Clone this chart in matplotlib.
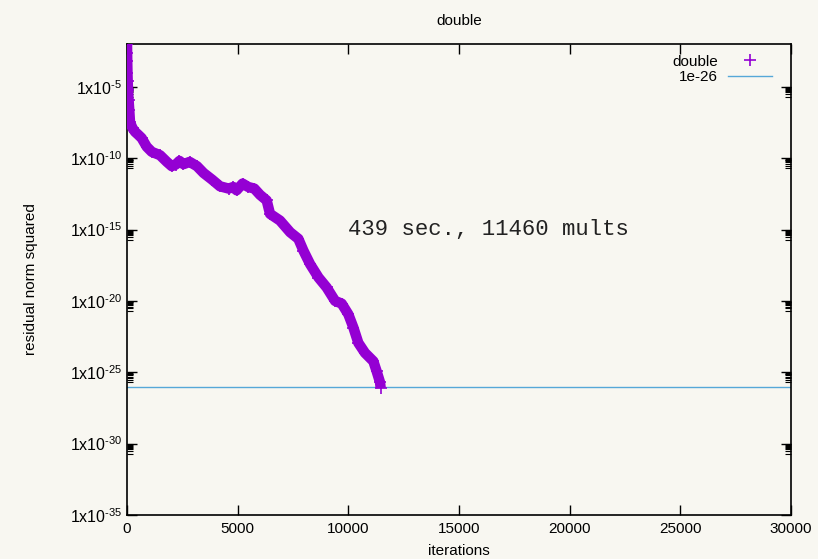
import matplotlib
matplotlib.use("Agg")
import matplotlib.pyplot as plt
from matplotlib.ticker import FixedLocator, NullFormatter

# values (iteration, log10 residual)
iters = [0, 5, 10, 20, 30, 45, 70, 100, 136, 250, 360, 500, 660, 890, 1120, 1490,
         1800, 2020, 2200, 2370, 2550, 2830, 3160, 3460, 3840, 4200, 4590, 4800,
         4950, 5220, 5480, 5750, 6010, 6310, 6460, 6910, 7370, 7740, 7970, 8270,
         8650, 9020, 9400, 9700, 10000, 10230, 10450, 10750, 11130, 11280, 11430, 11460]
log_resid = [-2.0, -2.6, -3.2, -4.0, -4.6, -5.2, -5.9, -6.6, -7.5, -7.9, -8.15, -8.35,
             -8.59, -9.2, -9.56, -9.79, -10.26, -10.56, -10.45, -10.19, -10.42, -10.26,
             -10.56, -11.04, -11.5, -11.97, -12.13, -12.02, -12.25, -11.78, -12.02,
             -12.13, -12.57, -12.96, -13.9, -14.37, -15.19, -15.65, -16.48, -17.42,
             -18.36, -19.06, -20.0, -20.19, -20.94, -21.88, -22.94, -23.64, -24.23,
             -24.94, -25.7, -26.1]
resid = [10 ** v for v in log_resid]
target = 1e-26
ytick_exps = [-5, -10, -15, -20, -25, -30, -35]
xticks = [0, 5000, 10000, 15000, 20000, 25000, 30000]

bg = "#f8f7f1"
plt.rcParams["font.family"] = ["Liberation Sans", "DejaVu Sans"]
plt.rcParams["mathtext.fontset"] = "custom"
plt.rcParams["mathtext.rm"] = "Liberation Sans"

fig = plt.figure(figsize=(8.18, 5.59), dpi=100, facecolor=bg)
ax = fig.add_axes([0.1553, 0.0787, 0.9670 - 0.1553, 0.9213 - 0.0787])
ax.set_facecolor(bg)

ax.plot(iters, resid, color="#9400d3", lw=7.5, solid_capstyle="butt", zorder=3)
ax.plot(iters, resid, "+", color="#9400d3", ms=8, mew=1.2, label="double", zorder=3)
ax.axhline(target, color="#56a8d8", lw=1, label="1e-26", zorder=2)

ax.set_yscale("log")
ax.set_xlim(0, 30000)
ax.set_ylim(1e-35, 1e-2)
ax.set_xticks(xticks)
ax.set_xticklabels([str(t) for t in xticks], fontsize=11)
ax.yaxis.set_major_locator(FixedLocator([10.0 ** e for e in ytick_exps]))
ax.set_yticklabels([r"1x10$^{\text{%d}}$" % e for e in ytick_exps], fontsize=11.5)
minors = [k * 10.0 ** (e - 1) for e in ytick_exps for k in range(2, 10)]
ax.yaxis.set_minor_locator(FixedLocator(minors))
ax.yaxis.set_minor_formatter(NullFormatter())
ax.xaxis.set_minor_locator(FixedLocator([]))
ax.tick_params(which="both", direction="in", top=True, right=True, colors="black")
ax.tick_params(which="major", length=7, width=1)
ax.tick_params(which="minor", length=4, width=0.8)
ax.tick_params(axis="x", pad=5)
for s in ax.spines.values():
    s.set_linewidth(1.2)

ax.set_title("double", fontsize=11, pad=14)
ax.set_xlabel("iterations", fontsize=11, labelpad=6)
ax.set_ylabel("residual norm squared", fontsize=11, labelpad=23)

ax.text(10000, 1e-15, "439 sec., 11460 mults", family="Liberation Mono",
        fontsize=16, va="center", ha="left", color="#222222")

leg = ax.legend(loc="upper right", bbox_to_anchor=(0.988, 1.0), markerfirst=False,
                frameon=False, fontsize=11, handlelength=2.9, handletextpad=0.65,
                borderaxespad=0.3, labelspacing=0.1)

fig.savefig("out.png", dpi=100, facecolor=bg)
